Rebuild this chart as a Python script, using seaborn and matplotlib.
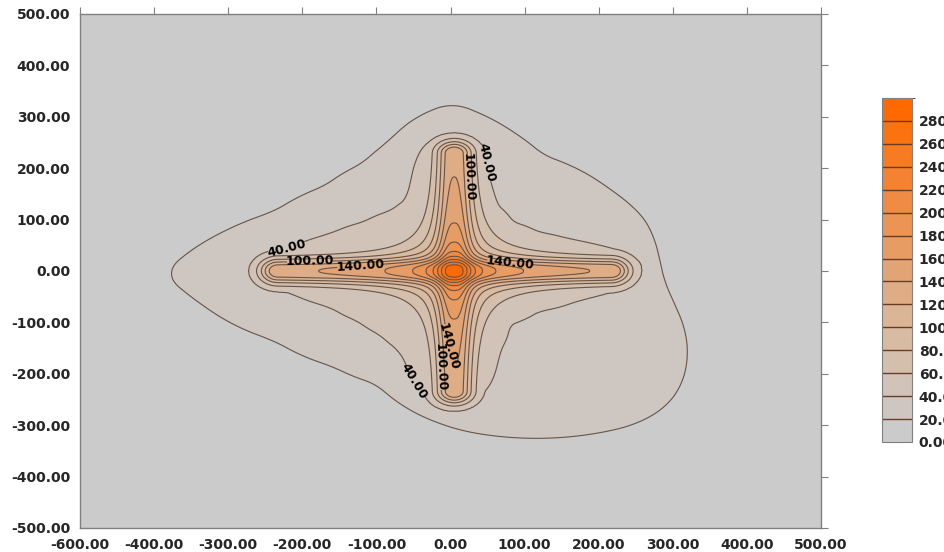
import numpy as np
import matplotlib
matplotlib.use("Agg")
import matplotlib.pyplot as plt
import seaborn as sns
from matplotlib.colors import ListedColormap, BoundaryNorm

# ---- values ----
levels = [0, 20, 40, 60, 80, 100, 120, 140, 160, 180, 200, 220, 240, 260, 280, 300]
cbar_ticks = [0, 20, 40, 60, 80, 100, 120, 140, 160, 180, 200, 220, 240, 260, 280]

xticks = [-500, -400, -300, -200, -100, 0, 100, 200, 300, 400, 500]
xtick_labels = ['-600.00', '-400.00', '-300.00', '-200.00', '-100.00', '0.00',
                '100.00', '200.00', '300.00', '400.00', '500.00']
yticks = [-500, -400, -300, -200, -100, 0, 100, 200, 300, 400, 500]
ytick_labels = ['-500.00', '-400.00', '-300.00', '-200.00', '-100.00', '0.00',
                '100.00', '200.00', '300.00', '400.00', '500.00']

# outline of the 20 level (outer blob)
outer_x = [282, 262, 214, 125, 90, 2, -45, -85, -118, -170, -238, -298, -350, -386,
           -340, -298, -238, -160, -100, -45, 15, 75, 200, 250, 290, 312, 320, 315, 300, 288]
outer_y = [20, 100, 160, 225, 265, 327, 300, 250, 210, 165, 115, 82, 40, -5,
           -60, -100, -135, -185, -220, -278, -310, -323, -315, -298, -265, -220, -160, -110, -60, -20]

# outline of the 40 level (four-pointed star)
star_x = [262, 250, 200, 160, 120, 85, 62, 52, 45, 30, 5, -25, -45, -51, -59, -80, -118,
          -163, -221, -255, -277, -255, -221, -163, -125, -95, -72, -59, -51, -35, 0,
          25, 45, 58, 65, 80, 120, 175, 220, 250]
star_y = [0, 30, 50, 62, 75, 95, 130, 177, 220, 255, 270, 258, 230, 183, 140, 118, 95,
          72, 42, 22, 0, -22, -40, -70, -98, -125, -152, -179, -218, -245, -266,
          -258, -240, -210, -160, -105, -78, -56, -40, -25]

# cross arms (segment ends) and their axes
h_arm_end = [-233, 217]
h_arm_y = 0
v_arm_end = [-234, 229]
v_arm_x = 5
# arm value = core / (1 + (d/core_w)^3) + tail / (1 + (d/tail_w)^2)
arm_core, arm_core_w = 95, 22
arm_tail, arm_tail_w = 30, 50
# broad hump where the arms cross
hump, hump_w = 45, 115

center = (5, 0)

# contour labels (level, positions)
labelled = {40: [(-221, 42), (47, 210), (-45, -212)],
            100: [(-190, 19), (26, 183), (-16, -187)],
            140: [(-122, 10), (80, 12), (-6, -148)]}


def radius_of(px, py, theta):
    px = np.asarray(px, float) - center[0]
    py = np.asarray(py, float) - center[1]
    ang = np.arctan2(py, px)
    rad = np.hypot(px, py)
    o = np.argsort(ang)
    fine = np.linspace(-np.pi, np.pi, 1440, endpoint=False)
    r = np.interp(fine, ang[o], rad[o], period=2 * np.pi)
    k = np.ones(33) / 33
    r = np.convolve(np.concatenate([r[-16:], r, r[:16]]), k, mode='valid')
    return np.interp(theta, fine, r, period=2 * np.pi)


def arm(d):
    return arm_core / (1 + (d / arm_core_w) ** 3) + arm_tail / (1 + (d / arm_tail_w) ** 2)


gx = np.linspace(-500, 500, 801)
gy = np.linspace(-500, 500, 801)
X, Y = np.meshgrid(gx, gy)
dx, dy = X - center[0], Y - center[1]
R = np.hypot(dx, dy)
TH = np.arctan2(dy, dx)

r20 = radius_of(outer_x, outer_y, TH)
r40 = radius_of(star_x, star_y, TH)
B = np.where(R >= r40,
             20 + 20 * (r20 - R) / (r20 - r40),
             40 + 15 * (r40 - R) / r40)

t = np.clip(X, h_arm_end[0], h_arm_end[1])
Ch = arm(np.hypot(X - t, Y - h_arm_y))
t = np.clip(Y, v_arm_end[0], v_arm_end[1])
Cv = arm(np.hypot(X - v_arm_x, Y - t))
S = Ch + Cv + hump / (1 + (R / hump_w) ** 2)

# the cross only shapes the 40+ levels; the outer blob keeps its own outline
Z = np.where(S >= 40, np.maximum(B, S), B)
Z = np.clip(Z, 0.5, 299.5)

# ---- drawing ----
sns.set_style("white")
plt.rcParams['font.family'] = ['DejaVu Sans']

band_colors = sns.blend_palette(['#cbcbcb', '#d9b89b', '#ec914f', '#ff6a00'], n_colors=15)
cmap = ListedColormap(band_colors)
norm = BoundaryNorm(levels, cmap.N)

fig = plt.figure(figsize=(9.45, 5.52), dpi=100)
ax = fig.add_axes([0.0847, 0.0435, 0.7841, 0.9312])

line_color = '#66544a'
cf = ax.contourf(X, Y, Z, levels=levels, cmap=cmap, norm=norm)
plain = [lv for lv in levels[1:-1] if lv not in labelled]
ax.contour(X, Y, Z, levels=plain, colors=line_color, linewidths=0.8)
for lev, pos in labelled.items():
    cs = ax.contour(X, Y, Z, levels=[lev], colors=line_color, linewidths=0.8)
    for txt in ax.clabel(cs, manual=pos, fmt='%.2f', fontsize=9,
                         inline=True, inline_spacing=1, colors='black'):
        txt.set_fontweight('semibold')

ax.set_xlim(-500, 500)
ax.set_ylim(-500, 500)
ax.set_xticks(xticks)
ax.set_xticklabels(xtick_labels)
ax.set_yticks(yticks)
ax.set_yticklabels(ytick_labels)
ax.tick_params(direction='out', length=5, width=0.8, color='#808080',
               labelsize=10, pad=2, top=True, right=True,
               labeltop=False, labelright=False)
for lab in ax.get_xticklabels() + ax.get_yticklabels():
    lab.set_fontweight('bold')
for sp in ax.spines.values():
    sp.set_color('#808080')
    sp.set_linewidth(1.0)

cax = fig.add_axes([0.9333, 0.1993, 0.0317, 0.6232])
cb = fig.colorbar(cf, cax=cax, ticks=cbar_ticks, drawedges=True)
cb.ax.set_yticklabels(['%.2f' % v for v in cbar_ticks])
cb.ax.tick_params(length=0, labelsize=10, pad=5)
for lab in cb.ax.get_yticklabels():
    lab.set_fontweight('bold')
cb.dividers.set_color('#6a3c24')
cb.dividers.set_linewidth(1.0)
cb.outline.set_edgecolor('#808080')
cb.outline.set_linewidth(0.8)

fig.savefig('out.png', dpi=100)
